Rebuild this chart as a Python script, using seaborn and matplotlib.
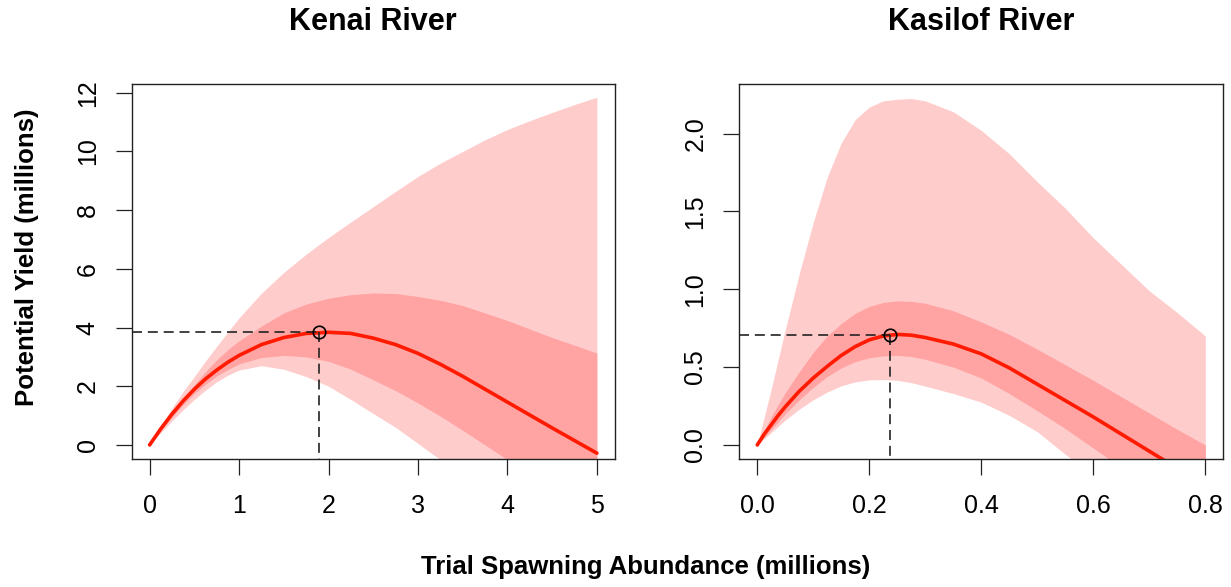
import matplotlib
matplotlib.use("Agg")
import matplotlib.pyplot as plt
import seaborn as sns

# Kenai River (millions)
kenai_s = [0, 0.125, 0.25, 0.375, 0.5, 0.625, 0.75, 0.875, 1.0, 1.25, 1.5, 1.75,
           2.0, 2.25, 2.5, 2.75, 3.0, 3.25, 3.5, 3.75, 4.0, 4.25, 4.5, 4.75, 5.0]
kenai_med = [0, 0.55, 1.05, 1.5, 1.9, 2.25, 2.55, 2.82, 3.05, 3.42, 3.66, 3.8,
             3.84, 3.8, 3.64, 3.42, 3.12, 2.75, 2.34, 1.9, 1.46, 1.02, 0.58, 0.15, -0.28]
kenai_hi95 = [0, 0.65, 1.25, 1.82, 2.33, 2.86, 3.36, 3.85, 4.33, 5.17, 5.88, 6.5,
              7.07, 7.6, 8.12, 8.64, 9.15, 9.6, 10.0, 10.4, 10.75, 11.05, 11.33, 11.6, 11.85]
kenai_lo95 = [0, 0.42, 0.82, 1.2, 1.55, 1.87, 2.15, 2.38, 2.55, 2.7, 2.58, 2.33,
              2.0, 1.55, 1.07, 0.6, 0.05, -0.5, -1.05, -1.6, -2.15, -2.7, -3.25, -3.8, -4.35]
kenai_hi50 = [0, 0.5, 1.0, 1.55, 2.05, 2.5, 2.9, 3.25, 3.55, 4.05, 4.5, 4.8,
              5.0, 5.12, 5.18, 5.16, 5.06, 4.93, 4.75, 4.5, 4.24, 3.95, 3.66, 3.4, 3.13]
kenai_lo50 = [0, 0.48, 0.95, 1.37, 1.75, 2.07, 2.35, 2.57, 2.76, 2.98, 3.05, 3.0,
              2.85, 2.58, 2.22, 1.85, 1.43, 0.98, 0.5, 0.0, -0.5, -1.0, -1.5, -2.0, -2.5]
kenai_smsy, kenai_msy = 1.89, 3.85

# Kasilof River (millions)
kasilof_s = [0, 0.0125, 0.025, 0.0375, 0.05, 0.075, 0.1, 0.125, 0.15, 0.175, 0.2,
             0.225, 0.25, 0.275, 0.3, 0.35, 0.4, 0.45, 0.5, 0.55, 0.6, 0.65, 0.7,
             0.75, 0.8]
kasilof_med = [0, 0.07, 0.13, 0.19, 0.245, 0.345, 0.43, 0.505, 0.575, 0.632, 0.675,
               0.7, 0.71, 0.705, 0.69, 0.648, 0.585, 0.495, 0.39, 0.285, 0.18, 0.07,
               -0.04, -0.15, -0.26]
kasilof_hi95 = [0, 0.18, 0.36, 0.55, 0.74, 1.1, 1.43, 1.72, 1.94, 2.09, 2.17,
                2.21, 2.22, 2.225, 2.21, 2.14, 2.02, 1.87, 1.69, 1.52, 1.33, 1.16,
                0.99, 0.85, 0.70]
kasilof_lo95 = [0, 0.04, 0.08, 0.12, 0.16, 0.23, 0.29, 0.34, 0.38, 0.405, 0.418,
                0.42, 0.415, 0.4, 0.378, 0.33, 0.275, 0.19, 0.085, -0.06, -0.19,
                -0.32, -0.45, -0.58, -0.71]
kasilof_hi50 = [0, 0.095, 0.18, 0.26, 0.335, 0.47, 0.595, 0.7, 0.78, 0.845, 0.89,
                0.915, 0.925, 0.922, 0.91, 0.862, 0.79, 0.71, 0.615, 0.515, 0.415,
                0.31, 0.205, 0.1, 0.0]
kasilof_lo50 = [0, 0.05, 0.1, 0.15, 0.2, 0.29, 0.37, 0.44, 0.495, 0.535, 0.56,
                0.572, 0.575, 0.568, 0.55, 0.5, 0.43, 0.33, 0.22, 0.105, -0.02,
                -0.145, -0.27, -0.395, -0.52]
kasilof_smsy, kasilof_msy = 0.237, 0.708

sns.set_style("ticks")
plt.rcParams["font.family"] = ["Liberation Sans", "DejaVu Sans"]
plt.rcParams["text.color"] = "black"
plt.rcParams["xtick.color"] = "black"
plt.rcParams["ytick.color"] = "black"
plt.rcParams["axes.labelcolor"] = "black"

LIGHT = "#FFCCCC"
DARK = "#FFA3A3"


def draw_panel(ax, s, med, lo95, hi95, lo50, hi50, smsy, msy,
               xlim, ylim, xticks, xlabels, yticks, ylabels):
    ax.fill_between(s, lo95, hi95, color=LIGHT, lw=0)
    ax.fill_between(s, lo50, hi50, color=DARK, lw=0)
    sns.lineplot(x=s, y=med, ax=ax, color="#FF1A00", lw=2.6, sort=False)
    ax.plot([xlim[0], smsy], [msy, msy], ls=(0, (6, 3.5)), color="#222222", lw=1.2)
    ax.plot([smsy, smsy], [msy, ylim[0]], ls=(0, (6, 3.5)), color="#222222", lw=1.2)
    ax.plot([smsy], [msy], marker="o", mfc="none", mec="black", ms=9, mew=1.2)
    ax.set_xlim(*xlim)
    ax.set_ylim(*ylim)
    ax.set_xticks(xticks, labels=xlabels)
    ax.set_yticks(yticks, labels=ylabels, rotation=90, va="center")
    ax.tick_params(direction="out", length=11.5, width=0.9, labelsize=18,
                   color="#222222", labelcolor="black")
    ax.tick_params(axis="x", pad=14)
    ax.tick_params(axis="y", pad=11.5)
    for sp in ax.spines.values():
        sp.set_visible(True)
        sp.set_linewidth(1.0)
        sp.set_color("#222222")
    ax.set_xlabel("")
    ax.set_ylabel("")


fig = plt.figure(figsize=(12.31, 5.87), dpi=100)
ax1 = fig.add_axes([0.1070, 0.2181, 0.3924, 0.6388])
ax2 = fig.add_axes([0.6006, 0.2181, 0.3925, 0.6388])

draw_panel(ax1, kenai_s, kenai_med, kenai_lo95, kenai_hi95, kenai_lo50, kenai_hi50,
           kenai_smsy, kenai_msy, (-0.2, 5.2), (-0.478, 12.30),
           [0, 1, 2, 3, 4, 5], ["0", "1", "2", "3", "4", "5"],
           [0, 2, 4, 6, 8, 10, 12], ["0", "2", "4", "6", "8", "10", "12"])
draw_panel(ax2, kasilof_s, kasilof_med, kasilof_lo95, kasilof_hi95, kasilof_lo50,
           kasilof_hi50, kasilof_smsy, kasilof_msy, (-0.032, 0.8307), (-0.09, 2.318),
           [0, 0.2, 0.4, 0.6, 0.8], ["0.0", "0.2", "0.4", "0.6", "0.8"],
           [0, 0.5, 1.0, 1.5, 2.0], ["0.0", "0.5", "1.0", "1.5", "2.0"])

fig.text(0.303, 0.9625, "Kenai River", ha="center", va="center",
         fontsize=22, fontweight="bold")
fig.text(0.797, 0.9625, "Kasilof River", ha="center", va="center",
         fontsize=22, fontweight="bold")
fig.text(0.5246, 0.034, "Trial Spawning Abundance (millions)", ha="center",
         va="center", fontsize=18.5, fontweight="bold")
fig.text(0.022, 0.562, "Potential Yield (millions)", ha="center", va="center",
         rotation=90, fontsize=18.5, fontweight="bold")

fig.savefig("out.png", dpi=100)
plt.close(fig)
